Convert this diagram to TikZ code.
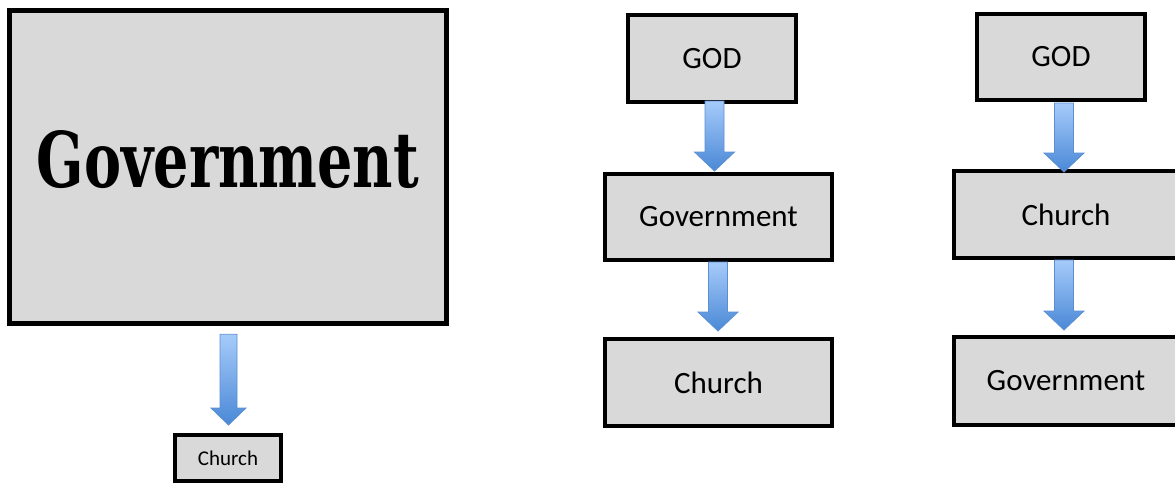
\documentclass[tikz,border=0pt]{standalone}
\usepackage{fontspec}
\setmainfont{Carlito}
\newfontfamily\gothfont{DejaVu Serif}
\usepackage{graphicx}
\usetikzlibrary{calc}
\definecolor{boxfill}{HTML}{D9D9D9}
\definecolor{arrowtop}{HTML}{A6CBFA}
\definecolor{arrowbot}{HTML}{4A88D6}
\definecolor{arrowline}{HTML}{5C8FD2}
\tikzset{
  box/.style={draw=black, fill=boxfill, line width=4pt, inner sep=0pt, font=\fontsize{31}{36}\selectfont},
  smallbox/.style={box, font=\fontsize{21}{25}\selectfont},
  blockarrow/.style={draw=arrowline, line width=0.8pt, top color=arrowtop, bottom color=arrowbot, line join=miter},
}
% #1 src, #2 dst, #3 dx, #4 top offset (down), #5 tip offset (up), #6 shaft half, #7 head half, #8 head length
\newcommand{\flowarrow}[8]{%
  \path[blockarrow] let \p1=($(#1.south)+(#3,#4)$), \p2=($(#2.north)+(0,-#5)$) in
    (\x1-#6pt,\y1) -- (\x1+#6pt,\y1) -- (\x1+#6pt,\y2+#8pt) -- (\x1+#7pt,\y2+#8pt)
    -- (\x1,\y2) -- (\x1-#7pt,\y2+#8pt) -- (\x1-#6pt,\y2+#8pt) -- cycle;}
\begin{document}
\begin{tikzpicture}[x=1pt,y=-1pt]
\useasboundingbox (0,0) rectangle (1175,485);
\clip (0,0) rectangle (1175,485);
% left diagram
\node[box, line width=4.5pt, minimum width=437pt, minimum height=313pt] (bigGov) at (228,167) {};
\node[inner sep=0pt] (gothtext) at (228,160) {\resizebox{382pt}{57pt}{\gothfont\bfseries Government}};
\node[smallbox, minimum width=106pt, minimum height=46pt] (smallChurch) at (228,458) {Church};
\flowarrow{bigGov}{smallChurch}{0.5}{8.5}{8}{8.5}{17.5}{17}
% middle diagram
\node[box, minimum width=168pt, minimum height=87pt] (god1) at (712,58.5) {GOD};
\node[box, minimum width=227pt, minimum height=86pt] (gov1) at (718.5,217) {Government};
\node[box, minimum width=227pt, minimum height=87pt] (church1) at (718.5,382.5) {Church};
\flowarrow{god1}{gov1}{2.5}{-3}{1}{9.5}{20}{19}
\flowarrow{gov1}{church1}{-0.5}{0}{6}{9.5}{20}{19}
% right diagram
\node[box, minimum width=168pt, minimum height=86pt] (god2) at (1061,57) {GOD};
\node[box, minimum width=224pt, minimum height=87pt] (church2) at (1066,214.5) {Church};
\node[box, minimum width=224pt, minimum height=88pt] (gov2) at (1066,381) {Government};
\flowarrow{god2}{church2}{3}{1}{-3}{9.5}{20}{19}
\flowarrow{church2}{gov2}{-2}{0}{5}{9.5}{20}{19}
\end{tikzpicture}
\end{document}
